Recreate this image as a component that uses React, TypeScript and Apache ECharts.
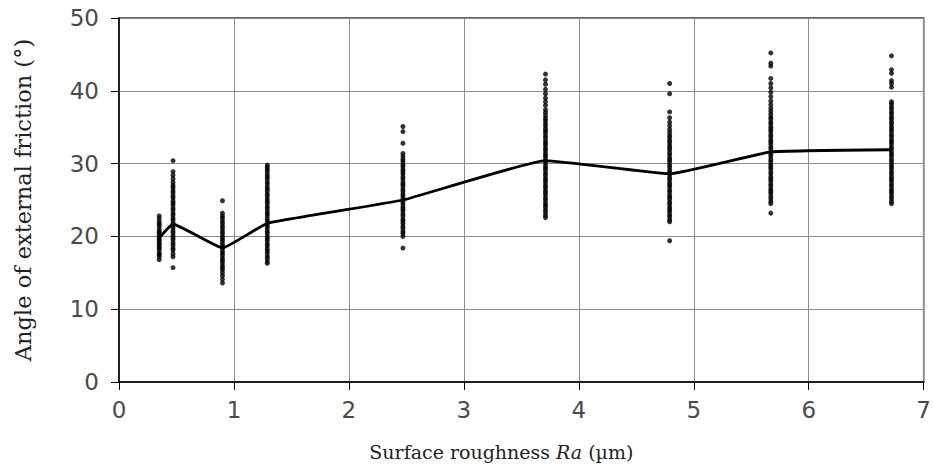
import React, { useEffect, useRef } from "react";
import * as echarts from "echarts";

// Surface roughness Ra (µm) of each sample group
const raValues = [0.35, 0.47, 0.9, 1.29, 2.47, 3.71, 4.79, 5.67, 6.72];

// Mean angle of external friction (°) per group
const meanAngles = [19.8, 21.7, 18.4, 21.8, 25.0, 30.4, 28.6, 31.6, 31.9];

// Individual measured angles (°) per group
const anglesA = [16.8, 17.2, 17.5, 17.7, 18.1, 18.4, 18.6, 18.9, 19.1, 19.4, 19.6, 19.9, 20.2, 20.5, 20.7, 21.0, 21.4, 21.7, 22.0, 22.4, 22.8];
const anglesB = [15.7, 17.2, 17.6, 18.1, 18.4, 18.8, 19.1, 19.5, 19.8, 20.1, 20.5, 20.8, 21.2, 21.5, 21.8, 22.2, 22.5, 22.9, 23.2, 23.6, 23.9, 24.3, 24.6, 24.9, 25.3, 25.6, 26.0, 26.3, 26.7, 27.0, 27.4, 27.9, 28.4, 28.9, 30.4];
const anglesC = [13.6, 14.1, 14.6, 15.0, 15.4, 15.7, 16.0, 16.4, 16.7, 17.0, 17.4, 17.7, 18.0, 18.4, 18.7, 19.0, 19.4, 19.7, 20.0, 20.4, 20.7, 21.1, 21.4, 21.8, 22.1, 22.5, 22.8, 23.2, 24.9];
const anglesD = [16.3, 16.6, 17.0, 17.3, 17.7, 18.0, 18.3, 18.7, 19.0, 19.4, 19.7, 20.0, 20.4, 20.7, 21.1, 21.4, 21.7, 22.1, 22.4, 22.8, 23.1, 23.4, 23.8, 24.1, 24.5, 24.8, 25.1, 25.5, 25.8, 26.2, 26.5, 26.8, 27.2, 27.5, 27.9, 28.2, 28.5, 28.9, 29.2, 29.5, 29.8];
const anglesE = [18.4, 20.0, 20.4, 20.7, 21.1, 21.4, 21.8, 22.1, 22.4, 22.8, 23.1, 23.5, 23.8, 24.1, 24.5, 24.8, 25.2, 25.5, 25.8, 26.2, 26.5, 26.9, 27.2, 27.5, 27.9, 28.2, 28.6, 28.9, 29.2, 29.6, 29.9, 30.3, 30.6, 31.0, 31.4, 32.8, 34.4, 35.1];
const anglesF = [22.6, 22.9, 23.3, 23.6, 24.0, 24.3, 24.6, 25.0, 25.3, 25.7, 26.0, 26.3, 26.7, 27.0, 27.4, 27.7, 28.0, 28.4, 28.7, 29.1, 29.4, 29.7, 30.1, 30.4, 30.8, 31.1, 31.4, 31.8, 32.1, 32.5, 32.8, 33.1, 33.5, 33.8, 34.2, 34.5, 34.8, 35.2, 35.5, 35.9, 36.2, 36.6, 37.0, 37.4, 38.0, 38.5, 39.0, 39.6, 40.2, 40.9, 41.5, 42.3];
const anglesG = [19.4, 22.0, 22.3, 22.7, 23.0, 23.4, 23.7, 24.0, 24.4, 24.7, 25.1, 25.4, 25.7, 26.1, 26.4, 26.8, 27.1, 27.4, 27.8, 28.1, 28.5, 28.8, 29.1, 29.5, 29.8, 30.2, 30.5, 30.8, 31.2, 31.5, 31.9, 32.2, 32.5, 32.9, 33.2, 33.6, 33.9, 34.3, 34.7, 35.2, 35.7, 36.3, 37.1, 39.6, 41.0];
const anglesH = [23.2, 24.5, 24.8, 25.2, 25.5, 25.9, 26.2, 26.5, 26.9, 27.2, 27.6, 27.9, 28.2, 28.6, 28.9, 29.3, 29.6, 29.9, 30.3, 30.6, 31.0, 31.3, 31.6, 32.0, 32.3, 32.7, 33.0, 33.3, 33.7, 34.0, 34.4, 34.7, 35.0, 35.4, 35.7, 36.1, 36.4, 36.8, 37.2, 37.6, 38.1, 38.6, 39.2, 39.8, 40.4, 41.0, 41.7, 43.4, 43.8, 45.2];
const anglesI = [24.5, 24.8, 25.2, 25.5, 25.9, 26.2, 26.5, 26.9, 27.2, 27.6, 27.9, 28.2, 28.6, 28.9, 29.3, 29.6, 29.9, 30.3, 30.6, 31.0, 31.3, 31.6, 32.0, 32.3, 32.7, 33.0, 33.3, 33.7, 34.0, 34.4, 34.7, 35.0, 35.4, 35.7, 36.1, 36.4, 36.8, 37.1, 37.5, 37.8, 38.2, 38.5, 40.5, 41.0, 41.4, 42.4, 42.9, 44.8];

const groupAngles = [anglesA, anglesB, anglesC, anglesD, anglesE, anglesF, anglesG, anglesH, anglesI];

const xTicks = [0, 1, 2, 3, 4, 5, 6, 7];
const yTicks = [0, 10, 20, 30, 40, 50];

export default function App() {
  const ref = useRef<HTMLDivElement>(null);
  useEffect(() => {
    if (!ref.current) return;
    const chart = echarts.init(ref.current, undefined, { renderer: "svg" });
    const points: number[][] = [];
    groupAngles.forEach((arr, i) => arr.forEach((v) => points.push([raValues[i], v])));
    const meanLine = raValues.map((x, i) => [x, meanAngles[i]]);
    const labelFont = { fontFamily: "DejaVu Sans", fontSize: 23, color: "#4a4a4a" };
    const nameFont = { fontFamily: "DejaVu Serif", fontSize: 19, color: "#222" };
    chart.setOption({
      animation: false,
      backgroundColor: "#fff",
      grid: {
        left: 119, right: 8, top: 18, bottom: 85,
        show: true, borderColor: "#333", borderWidth: 1.5, backgroundColor: "transparent",
      },
      xAxis: {
        type: "value", min: xTicks[0], max: xTicks[xTicks.length - 1], interval: 1,
        axisLine: { show: true, onZero: false, lineStyle: { color: "#000", width: 1.5 } },
        axisTick: { show: true, length: 8, lineStyle: { color: "#000", width: 1 } },
        axisLabel: { ...labelFont, margin: 16 },
        splitLine: { show: true, lineStyle: { color: "#8c8c8c", width: 1 } },
        name: "Surface roughness {i|Ra} (µm)",
        nameLocation: "middle",
        nameGap: 60,
        nameTextStyle: {
          ...nameFont,
          padding: [0, 40, 0, 0],
          rich: { i: { ...nameFont, fontStyle: "italic" } },
        },
      },
      yAxis: {
        type: "value", min: yTicks[0], max: yTicks[yTicks.length - 1], interval: 10,
        axisLine: { show: true, onZero: false, lineStyle: { color: "#000", width: 1.5 } },
        axisTick: { show: true, length: 8, lineStyle: { color: "#000", width: 1 } },
        axisLabel: { ...labelFont, margin: 20 },
        splitLine: { show: true, lineStyle: { color: "#8c8c8c", width: 1 } },
        name: "Angle of external friction (°)",
        nameLocation: "middle",
        nameGap: 85,
        nameTextStyle: { ...nameFont, fontSize: 22.5 },
      },
      series: [
        {
          type: "scatter",
          data: points,
          symbol: "circle",
          symbolSize: 5,
          itemStyle: { color: "#000" },
          z: 2,
        },
        {
          type: "line",
          data: meanLine,
          smooth: 0.1,
          symbol: "none",
          lineStyle: { color: "#000", width: 2.8 },
          z: 3,
        },
      ],
    });
    return () => chart.dispose();
  }, []);
  return <div ref={ref} style={{ width: 934, height: 467, position: "absolute", left: 0, top: 0 }} />;
}
